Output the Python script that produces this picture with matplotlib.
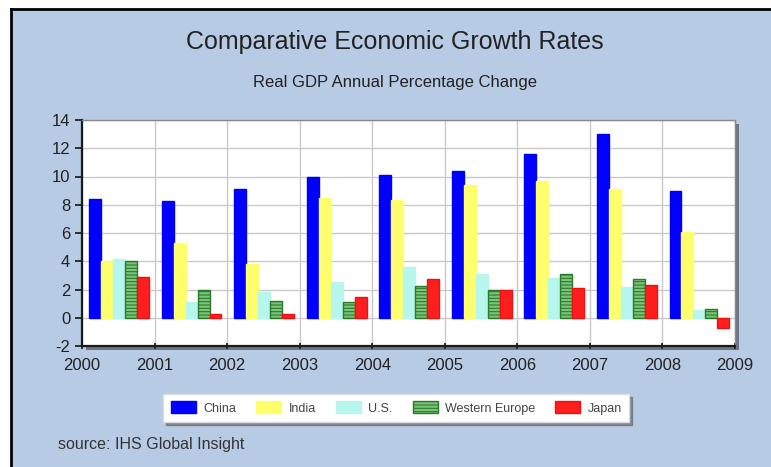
import matplotlib

matplotlib.use("Agg")
import matplotlib.pyplot as plt
import numpy as np
from matplotlib.lines import Line2D
from matplotlib.patches import Rectangle

BG = "#b8cbe4"
TEXT = "#222222"

years = [2000, 2001, 2002, 2003, 2004, 2005, 2006, 2007, 2008]
china = [8.4, 8.3, 9.1, 10.0, 10.1, 10.4, 11.6, 13.0, 9.0]
india = [4.0, 5.3, 3.8, 8.45, 8.35, 9.4, 9.7, 9.15, 6.1]
us = [4.15, 1.15, 1.85, 2.55, 3.6, 3.1, 2.8, 2.2, 0.55]
w_europe = [4.0, 2.0, 1.2, 1.15, 2.25, 1.95, 3.1, 2.75, 0.6]
japan = [2.9, 0.25, 0.3, 1.45, 2.75, 1.95, 2.1, 2.35, -0.75]

series = [
    ("China", china, dict(facecolor="#0000ff", edgecolor="#0000ee")),
    ("India", india, dict(facecolor="#ffff6e", edgecolor="#ffff6e")),
    ("U.S.", us, dict(facecolor="#b6f6ec", edgecolor="#b6f6ec")),
    ("Western Europe", w_europe, dict(facecolor="#7cc47c", edgecolor="#2a7a2a", hatch="-----")),
    ("Japan", japan, dict(facecolor="#ff1e1e", edgecolor="#ee1010")),
]

plt.rcParams["font.family"] = ["Liberation Sans", "DejaVu Sans"]
plt.rcParams["hatch.linewidth"] = 0.8
plt.rcParams["axes.unicode_minus"] = False

fig = plt.figure(figsize=(7.71, 4.67), dpi=100, facecolor=BG)

# white margin outside the black frame (top and left only, picture is cropped)
fig.patches.append(Rectangle((0, 0), 11 / 771, 1, transform=fig.transFigure,
                             facecolor="white", edgecolor="none", zorder=-2))
fig.patches.append(Rectangle((0, 1 - 9 / 467), 1, 9 / 467, transform=fig.transFigure,
                             facecolor="white", edgecolor="none", zorder=-2))
fig.lines.append(Line2D([11 / 771, 11 / 771], [0, 1 - 9 / 467], transform=fig.transFigure,
                        color="black", lw=2))
fig.lines.append(Line2D([11 / 771, 1], [1 - 9 / 467, 1 - 9 / 467], transform=fig.transFigure,
                        color="black", lw=2))

ax_rect = [82 / 771, 1 - 346 / 467, (735 - 82) / 771, (346 - 120) / 467]

# drop shadow behind the plot area
fig.patches.append(Rectangle((ax_rect[0] + 4 / 771, ax_rect[1] - 4 / 467), ax_rect[2], ax_rect[3],
                             transform=fig.transFigure, facecolor="#6d7784",
                             edgecolor="none", zorder=-1))

ax = fig.add_axes(ax_rect)
ax.set_facecolor("white")

width = 0.165
x = np.array(years)
for i, (name, vals, style) in enumerate(series):
    ax.bar(x + 0.18 + i * width, vals, width=width, label=name, linewidth=1,
           zorder=3, **style)

ax.set_xlim(2000, 2009)
ax.set_ylim(-2, 14)
ax.set_xticks(range(2000, 2010))
ax.set_yticks(range(-2, 15, 2))
ax.grid(True, color="#c9c9c9", lw=1, zorder=0)
ax.set_axisbelow(True)
ax.tick_params(labelsize=12, colors=TEXT, length=5, width=1.3)
ax.tick_params(axis="x", direction="inout", pad=6)
for s in ("left", "bottom"):
    ax.spines[s].set_color("#1a1a1a")
    ax.spines[s].set_linewidth(1.6)
for s in ("top", "right"):
    ax.spines[s].set_color("#8a8a8a")
    ax.spines[s].set_linewidth(1)

fig.text(0.512, 1 - 42 / 467, "Comparative Economic Growth Rates", ha="center", va="center",
         fontsize=18, color=TEXT)
fig.text(0.512, 1 - 83 / 467, "Real GDP Annual Percentage Change", ha="center", va="center",
         fontsize=12, color=TEXT)
fig.text(58 / 771, 1 - 445 / 467, "source: IHS Global Insight", ha="left", va="center",
         fontsize=11.5, color="#333333")

leg = fig.legend(loc="center", bbox_to_anchor=(0.514, 1 - 408 / 467), ncol=5, fontsize=9,
                 frameon=True, fancybox=False, shadow=True, handlelength=2.0,
                 handleheight=1.1, columnspacing=1.6, handletextpad=0.6,
                 borderpad=0.6, labelcolor="#444444")
leg.get_frame().set_facecolor("white")
leg.get_frame().set_edgecolor("#dddddd")

fig.savefig("out.png", dpi=100, facecolor=BG)
